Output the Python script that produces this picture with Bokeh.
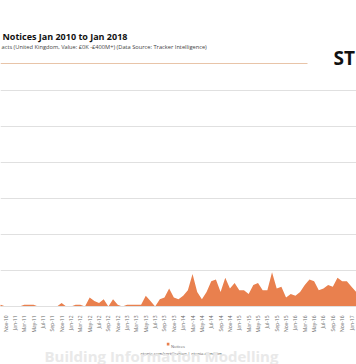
import math
from bokeh.plotting import figure
from bokeh.layouts import column
from bokeh.models import Range1d, FixedTicker, Label
from bokeh.embed import file_html
from bokeh.resources import INLINE

# ---- data ----
month_names = ["Jan", "Feb", "Mar", "Apr", "May", "Jun",
               "Jul", "Aug", "Sep", "Oct", "Nov", "Dec"]
years = [10, 11, 12, 13, 14, 15, 16, 17, 18]
month_labels = [f"{m}-{y:02d}" for y in years for m in month_names][:97]  # Jan-10 .. Jan-18
month_idx = list(range(len(month_labels)))

notices = [
    0, 0, 1, 0, 0, 0, 1, 0, 0, 1,
    0, 0, 0, 0, 1, 1, 1, 0, 0, 0,
    0, 0, 2, 0, 0, 1, 1, 0, 5, 3,
    2, 4, 0, 4, 1, 0, 1, 1, 1, 1,
    6, 3, 0, 4, 5, 10, 5, 4, 6, 9,
    18, 8, 4, 8, 14, 15, 8, 16, 10, 13,
    9, 9, 7, 12, 13, 9, 9, 19, 10, 11,
    5, 7, 6, 8, 12, 15, 14, 9, 10, 12,
    11, 16, 14, 14, 11, 8, 10, 12, 9, 11,
    13, 10, 12, 9, 11, 10, 8,
]
grid_values = [0, 20, 40, 60, 80, 100, 120]

title_text = "Notices Jan 2010 to Jan 2018"
subtitle_text = "acts (United Kingdom, Value: £0K -£400M+) (Data Source: Tracker Intelligence)"
brand_text = "ST"
legend_text = "Notices"
source_text = "xtonia.com/certification | xtonia.com/bim"
footer_text = "Building Information Modelling"

ORANGE = "#E9804E"
FONT = "Open Sans"
W = 356

# month index <-> page pixel (layout only)
X0, DX, I0 = 5.0, 4.676, 10
def dx(px):
    return I0 + (px - X0) / DX


def text_panel(height, top):
    f = figure(width=W, height=height, output_backend="svg", toolbar_location=None,
               title=None, x_axis_location=None, y_axis_location=None,
               x_range=Range1d(0, W), y_range=Range1d(top + height, top),
               min_border_left=0, min_border_right=0,
               min_border_top=0, min_border_bottom=0)
    f.outline_line_color = None
    f.xgrid.grid_line_color = None
    f.ygrid.grid_line_color = None
    f.background_fill_color = "white"
    f.border_fill_color = "white"
    return f


def lab(f, text, px, py, size, color, bold=False, align="left"):
    f.add_layout(Label(x=px, y=py, text=text, text_font=FONT,
                       text_font_size=size, text_color=color,
                       text_font_style="bold" if bold else "normal",
                       text_align=align, text_baseline="alphabetic"))


# ---- header ----
top = text_panel(80, 0)
lab(top, title_text, 2, 36, "9px", "#111111", bold=True)
lab(top, subtitle_text, 1, 46.5, "5.7px", "#444444")
lab(top, brand_text, 333, 57, "19px", "#111111", bold=True)
top.segment(x0=[0], y0=[63], x1=[307], y1=[63], line_color="#E8C4A8", line_width=1)

# ---- main chart ----
FRAME_H = 217
PX_PER_UNIT = 1.8
BOTTOM = 30
p = figure(width=W, height=9 + FRAME_H + BOTTOM, output_backend="svg", toolbar_location=None,
           title=None, y_axis_location=None,
           x_range=Range1d(dx(0), dx(W)), y_range=Range1d(0, FRAME_H / PX_PER_UNIT),
           min_border_left=0, min_border_right=0,
           min_border_top=9, min_border_bottom=BOTTOM)
p.outline_line_color = None
p.background_fill_color = "white"
p.border_fill_color = "white"

p.varea(x=month_idx, y1=[0] * len(notices), y2=notices, fill_color=ORANGE, fill_alpha=1.0)

p.xgrid.grid_line_color = None
p.ygrid.ticker = FixedTicker(ticks=grid_values)
p.ygrid.grid_line_color = "#e0e0e0"
p.ygrid.grid_line_width = 1

ax = p.xaxis[0]
ax.ticker = FixedTicker(ticks=month_idx[::2])
ax.major_label_overrides = {i: month_labels[i] for i in month_idx[::2]}
ax.major_label_orientation = math.pi / 2
ax.major_label_text_font = FONT
ax.major_label_text_font_size = "5px"
ax.major_label_text_color = "#666666"
ax.major_label_standoff = 3
ax.major_tick_line_color = None
ax.minor_tick_line_color = None
ax.axis_line_color = "#e0e0e0"

# ---- footer ----
FOOT_TOP = 80 + 9 + FRAME_H + BOTTOM
bot = text_panel(364 - FOOT_TOP, FOOT_TOP)
bot.rect(x=[167.6], y=[343.6], width=2.6, height=2.6, fill_color=ORANGE, line_color=None)
lab(bot, legend_text, 170.5, 345.5, "4px", "#666666")
lab(bot, source_text, 140, 353, "4.2px", "#555555")
lab(bot, footer_text, 44, 355, "15px", "#e9e9e9", bold=True)

layout = column(top, p, bot, spacing=0)
open("out.html", "w").write(file_html(layout, INLINE))
